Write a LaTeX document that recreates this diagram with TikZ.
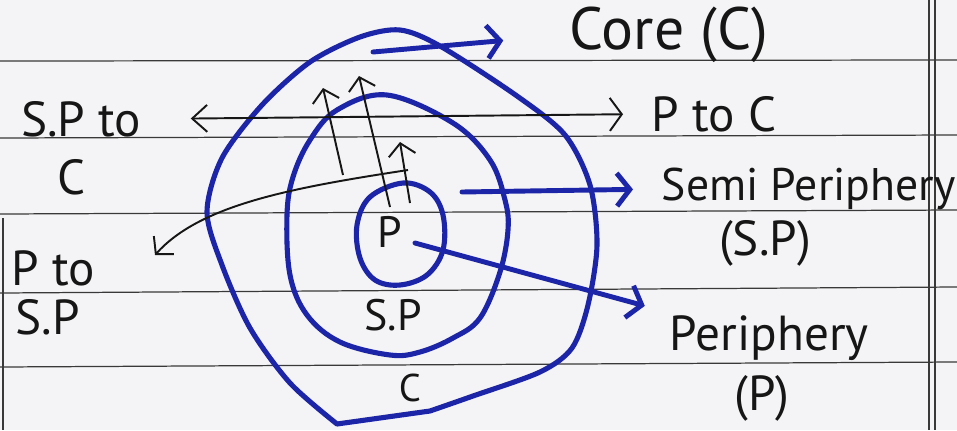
\documentclass[tikz,border=0pt]{standalone}
\usepackage{fontspec}
\setmainfont{PT Sans}
\usetikzlibrary{arrows.meta,positioning}
\definecolor{penblue}{RGB}{28,36,168}
\definecolor{ink}{RGB}{22,22,22}
\definecolor{paper}{RGB}{244,244,246}
\tikzset{
  rule/.style  ={draw=ink!85,line width=0.7pt},
  ring/.style  ={draw=penblue,line width=2.9pt,line join=round},
  bflow/.style ={penblue,line width=2.8pt,line cap=round,
                 -{Straight Barb[length=2.6mm,width=6.6mm]}},
  kflow/.style ={ink,line width=1.1pt,-{Straight Barb[length=2.4mm,width=5.4mm]}},
  kboth/.style ={ink,line width=1.1pt,
                 {Straight Barb[length=3mm,width=5.4mm]}-{Straight Barb[length=2.4mm,width=6.6mm]}},
  lbl/.style   ={font=\fontsize{28}{31}\selectfont,text=ink,inner sep=2pt},
  inlbl/.style ={lbl,font=\fontsize{25}{28}\selectfont},
}

\begin{document}
\begin{tikzpicture}[x=0.02cm,y=-0.02cm]
  % paper and ruled lines
  \fill[paper] (0,0) rectangle (957,430);
  \useasboundingbox (0,0) rectangle (957,430);
  \foreach \ya/\yb in {61/60,138/135,214/210,293/287,367/362}
    \draw[rule] (0,\ya) -- (957,\yb);
  \draw[rule] (929,0) -- (929,430) (935,0) -- (935,430);
  \draw[rule] (3,218) -- (3,430);

  % core, semi periphery, periphery
  \draw[ring] plot[smooth,tension=0.5] coordinates {
    (337,424) (290,383) (250,328) (222,265) (207,212) (222,158) (262,105)
    (310,62) (360,37) (400,30) (440,46) (517,96) (565,135) (590,185)
    (597,245) (588,305) (572,348) (540,372) (473,396) (430,411)} -- cycle;
  \draw[ring] plot[smooth cycle,tension=0.6] coordinates {
    (387,95) (453,123) (490,160) (505,200) (508,230) (500,272) (480,318)
    (453,338) (420,352) (390,355) (340,342) (307,315) (290,275) (287,215)
    (293,177) (310,140) (337,110)};
  \draw[ring] plot[smooth cycle,tension=0.6] coordinates {
    (403,183) (430,192) (443,215) (443,250) (427,275) (400,285) (375,280)
    (360,258) (357,225) (370,197)};

  \node[inlbl] (pin)  at (390,232) {P};
  \node[inlbl] (spin) at (393,315) {S.P};
  \node[inlbl,font=\fontsize{22}{24}\selectfont] (cin) at (410,388) {C};

  % labels
  \node[lbl,anchor=west,font=\fontsize{34}{36}\selectfont] (core) at (566,35) {Core (C)};
  \node[lbl,anchor=west] (ptoc)  at (648,114) {P to C};
  \node[lbl,anchor=west,font=\fontsize{26}{28}\selectfont] (semi) at (658,189) {Semi Periphery};
  \node[lbl] (semisp) at (765,243) {(S.P)};
  \node[lbl,anchor=west] (peri)  at (666,338) {Periphery};
  \node[lbl] (perip)  at (762,398) {(P)};
  \node[lbl] (sptoc)  at (81,119) {S.P to};
  \node[lbl] (sptocc) at (72,177) {C};
  \node[lbl,anchor=west] (ptosp)   at (8,268) {P to};
  \node[lbl,anchor=west] (ptospsp) at (12,317) {S.P};

  % blue arrows
  \coordinate (cst) at (373,52);
  \coordinate (sst) at (462,192);
  \coordinate (pst) at (415,243);
  \draw[bflow,shorten >=1.26cm] (cst) -- (core.west);
  \draw[bflow,shorten >=0.5cm]  (sst) -- (semi.west);
  \draw[bflow,shorten >=0.44cm] (pst) -- (peri.north west);

  % black arrows
  \draw[kboth,shorten <=0.92cm,shorten >=0.5cm] (sptoc.east) -- (ptoc.west);
  \coordinate (ua) at (343,175); \coordinate (uat) at (323,88);
  \coordinate (ub) at (390,207); \coordinate (ubt) at (359,76);
  \coordinate (uc) at (410,203); \coordinate (uct) at (400,142);
  \draw[kflow] (ua) -- (uat);
  \draw[kflow] (ub) -- (ubt);
  \draw[kflow] (uc) -- (uct);
  \coordinate (pts) at (408,170);
  \coordinate (ptip) at (155,255);
  \draw[kflow] (pts) .. controls (290,188) and (200,205) .. (ptip);
\end{tikzpicture}
\end{document}
